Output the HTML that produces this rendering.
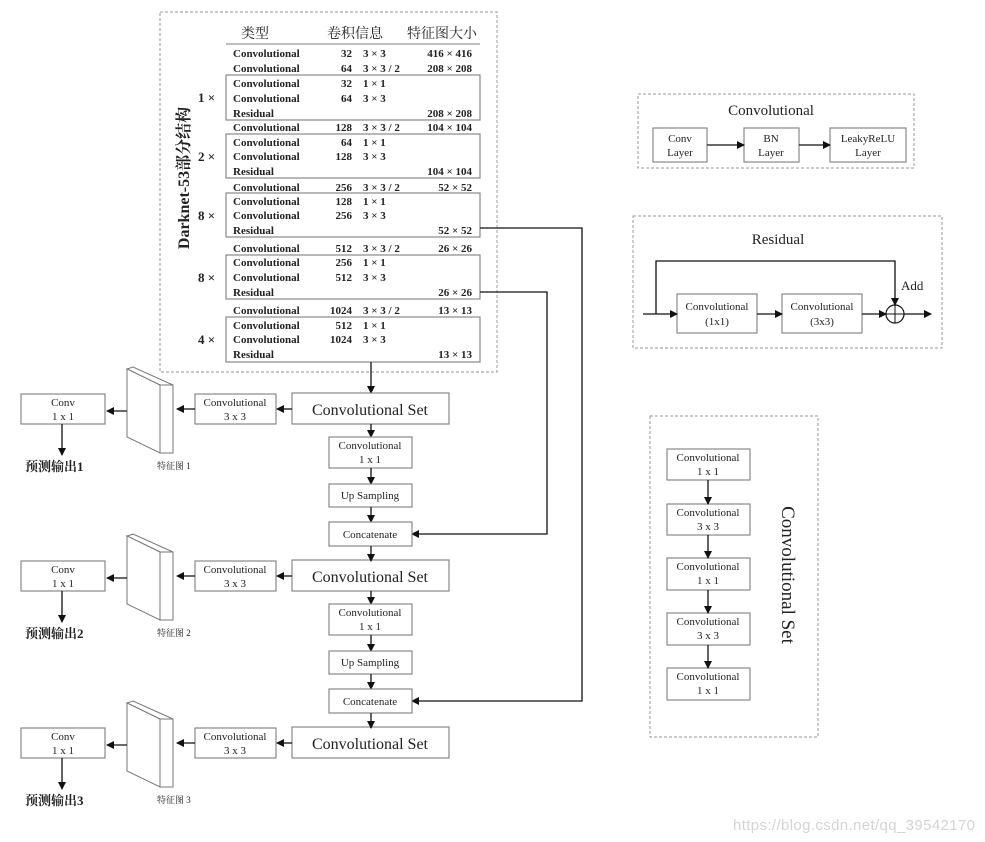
<!DOCTYPE html>
<html><head><meta charset="utf-8"><style>
body{margin:0;background:#fff}
svg{display:block}
text{font-family:"Liberation Serif","Noto Serif CJK SC",serif;fill:#222}
.t{font-size:11px;font-weight:bold}
.b{fill:#fff;stroke:#888;stroke-width:1.2}
.d{fill:none;stroke:#999;stroke-width:1;stroke-dasharray:3,2}
.l{stroke:#111;stroke-width:1.3;fill:none}
.s{font-size:11px}
</style></head><body>
<svg width="985" height="842" viewBox="0 0 985 842" xmlns="http://www.w3.org/2000/svg">
<defs><marker id="a" markerWidth="8" markerHeight="8" refX="7" refY="4" orient="auto" markerUnits="userSpaceOnUse"><path d="M0,0 L8,4 L0,8z" fill="#111"/></marker></defs>

<rect class="d" x="160" y="12" width="337" height="360"/>
<text x="255" y="38" font-size="14" text-anchor="middle">类型</text>
<text x="355" y="38" font-size="14" text-anchor="middle">卷积信息</text>
<text x="442" y="38" font-size="14" text-anchor="middle">特征图大小</text>
<line x1="226" y1="44" x2="480" y2="44" stroke="#999" stroke-width="1.2"/>
<rect class="b" x="226" y="75" width="254" height="45" fill="none"/>
<rect class="b" x="226" y="134" width="254" height="44"/>
<rect class="b" x="226" y="193" width="254" height="44"/>
<rect class="b" x="226" y="255" width="254" height="44"/>
<rect class="b" x="226" y="317" width="254" height="45"/>
<text transform="translate(189,178) rotate(-90)" font-size="16" font-weight="bold" text-anchor="middle">Darknet-53部分结构</text>
<g>
<text x="198" y="102" font-size="13" font-weight="bold">1 ×</text>
<text x="198" y="161" font-size="13" font-weight="bold">2 ×</text>
<text x="198" y="220" font-size="13" font-weight="bold">8 ×</text>
<text x="198" y="282" font-size="13" font-weight="bold">8 ×</text>
<text x="198" y="344" font-size="13" font-weight="bold">4 ×</text>
</g>
<g class="t">
<text class="t" x="233" y="57">Convolutional</text><text class="t" x="352" y="57" text-anchor="end">32</text><text class="t" x="363" y="57">3 × 3</text><text class="t" x="472" y="57" text-anchor="end">416 × 416</text>
<text class="t" x="233" y="72">Convolutional</text><text class="t" x="352" y="72" text-anchor="end">64</text><text class="t" x="363" y="72">3 × 3 / 2</text><text class="t" x="472" y="72" text-anchor="end">208 × 208</text>
<text class="t" x="233" y="87">Convolutional</text><text class="t" x="352" y="87" text-anchor="end">32</text><text class="t" x="363" y="87">1 × 1</text>
<text class="t" x="233" y="102">Convolutional</text><text class="t" x="352" y="102" text-anchor="end">64</text><text class="t" x="363" y="102">3 × 3</text>
<text class="t" x="233" y="117">Residual</text><text class="t" x="472" y="117" text-anchor="end">208 × 208</text>
<text class="t" x="233" y="131">Convolutional</text><text class="t" x="352" y="131" text-anchor="end">128</text><text class="t" x="363" y="131">3 × 3 / 2</text><text class="t" x="472" y="131" text-anchor="end">104 × 104</text>
<text class="t" x="233" y="146">Convolutional</text><text class="t" x="352" y="146" text-anchor="end">64</text><text class="t" x="363" y="146">1 × 1</text>
<text class="t" x="233" y="160">Convolutional</text><text class="t" x="352" y="160" text-anchor="end">128</text><text class="t" x="363" y="160">3 × 3</text>
<text class="t" x="233" y="175">Residual</text><text class="t" x="472" y="175" text-anchor="end">104 × 104</text>
<text class="t" x="233" y="191">Convolutional</text><text class="t" x="352" y="191" text-anchor="end">256</text><text class="t" x="363" y="191">3 × 3 / 2</text><text class="t" x="472" y="191" text-anchor="end">52 × 52</text>
<text class="t" x="233" y="205">Convolutional</text><text class="t" x="352" y="205" text-anchor="end">128</text><text class="t" x="363" y="205">1 × 1</text>
<text class="t" x="233" y="219">Convolutional</text><text class="t" x="352" y="219" text-anchor="end">256</text><text class="t" x="363" y="219">3 × 3</text>
<text class="t" x="233" y="234">Residual</text><text class="t" x="472" y="234" text-anchor="end">52 × 52</text>
<text class="t" x="233" y="252">Convolutional</text><text class="t" x="352" y="252" text-anchor="end">512</text><text class="t" x="363" y="252">3 × 3 / 2</text><text class="t" x="472" y="252" text-anchor="end">26 × 26</text>
<text class="t" x="233" y="266">Convolutional</text><text class="t" x="352" y="266" text-anchor="end">256</text><text class="t" x="363" y="266">1 × 1</text>
<text class="t" x="233" y="281">Convolutional</text><text class="t" x="352" y="281" text-anchor="end">512</text><text class="t" x="363" y="281">3 × 3</text>
<text class="t" x="233" y="296">Residual</text><text class="t" x="472" y="296" text-anchor="end">26 × 26</text>
<text class="t" x="233" y="314">Convolutional</text><text class="t" x="352" y="314" text-anchor="end">1024</text><text class="t" x="363" y="314">3 × 3 / 2</text><text class="t" x="472" y="314" text-anchor="end">13 × 13</text>
<text class="t" x="233" y="329">Convolutional</text><text class="t" x="352" y="329" text-anchor="end">512</text><text class="t" x="363" y="329">1 × 1</text>
<text class="t" x="233" y="343">Convolutional</text><text class="t" x="352" y="343" text-anchor="end">1024</text><text class="t" x="363" y="343">3 × 3</text>
<text class="t" x="233" y="358">Residual</text><text class="t" x="472" y="358" text-anchor="end">13 × 13</text>
</g>

<polyline class="l" points="480,228 582,228 582,701 412,701" marker-end="url(#a)"/>
<polyline class="l" points="480,292 547,292 547,534 412,534" marker-end="url(#a)"/>
<line class="l" x1="371" y1="362" x2="371" y2="393" marker-end="url(#a)"/>

<g id="h1">
<rect class="b" x="292" y="393" width="157" height="31"/>
<text x="370" y="415" font-size="16" text-anchor="middle">Convolutional  Set</text>
<rect class="b" x="195" y="394" width="81" height="30"/>
<text class="s" x="235" y="406" text-anchor="middle">Convolutional</text>
<text class="s" x="235" y="420" text-anchor="middle">3 x 3</text>
<line class="l" x1="292" y1="409" x2="277" y2="409" marker-end="url(#a)"/>
<line class="l" x1="195" y1="409" x2="177" y2="409" marker-end="url(#a)"/>
<polygon points="127,369 133,367 173,385 160,385" fill="#fff" stroke="#777"/>
<polygon points="127,369 160,385 160,453 127,437" fill="#fff" stroke="#777"/>
<rect x="160" y="385" width="13" height="68" fill="#fff" stroke="#777"/>
<line class="l" x1="127" y1="411" x2="107" y2="411" marker-end="url(#a)"/>
<rect class="b" x="21" y="394" width="84" height="30"/>
<text class="s" x="63" y="406" text-anchor="middle">Conv</text>
<text class="s" x="63" y="420" text-anchor="middle">1 x 1</text>
<line class="l" x1="62" y1="424" x2="62" y2="455" marker-end="url(#a)"/>
<text x="25" y="471" font-size="13" font-weight="bold">预测输出1</text>
<text x="157" y="469" font-size="9">特征图 1</text>
</g>
<use href="#h1" y="167"/>
<use href="#h1" y="334"/>
<rect fill="#fff" x="20" y="625" width="90" height="20"/><text x="25" y="638" font-size="13" font-weight="bold">预测输出2</text>
<rect fill="#fff" x="20" y="792" width="90" height="20"/><text x="25" y="805" font-size="13" font-weight="bold">预测输出3</text>
<rect fill="#fff" x="155" y="626" width="45" height="14"/><text x="157" y="636" font-size="9">特征图 2</text>
<rect fill="#fff" x="155" y="793" width="45" height="14"/><text x="157" y="803" font-size="9">特征图 3</text>

<g id="up">
<line class="l" x1="371" y1="424" x2="371" y2="437" marker-end="url(#a)"/>
<rect class="b" x="329" y="437" width="83" height="31"/>
<text class="s" x="370" y="449" text-anchor="middle">Convolutional</text>
<text class="s" x="370" y="463" text-anchor="middle">1 x 1</text>
<line class="l" x1="371" y1="468" x2="371" y2="484" marker-end="url(#a)"/>
<rect class="b" x="329" y="484" width="83" height="23"/>
<text class="s" x="370" y="499" text-anchor="middle">Up Sampling</text>
<line class="l" x1="371" y1="507" x2="371" y2="522" marker-end="url(#a)"/>
<rect class="b" x="329" y="522" width="83" height="24"/>
<text class="s" x="370" y="538" text-anchor="middle">Concatenate</text>
<line class="l" x1="371" y1="546" x2="371" y2="561" marker-end="url(#a)"/>
</g>
<use href="#up" y="167"/>

<rect class="d" x="638" y="94" width="276" height="74"/>
<text x="771" y="115" font-size="15" text-anchor="middle">Convolutional</text>
<rect class="b" x="653" y="128" width="54" height="34"/>
<text class="s" x="680" y="142" text-anchor="middle">Conv</text><text class="s" x="680" y="156" text-anchor="middle">Layer</text>
<rect class="b" x="744" y="128" width="55" height="34"/>
<text class="s" x="771" y="142" text-anchor="middle">BN</text><text class="s" x="771" y="156" text-anchor="middle">Layer</text>
<rect class="b" x="830" y="128" width="76" height="34"/>
<text class="s" x="868" y="142" text-anchor="middle">LeakyReLU</text><text class="s" x="868" y="156" text-anchor="middle">Layer</text>
<line class="l" x1="707" y1="145" x2="744" y2="145" marker-end="url(#a)"/>
<line class="l" x1="799" y1="145" x2="830" y2="145" marker-end="url(#a)"/>

<rect class="d" x="633" y="216" width="309" height="132"/>
<text x="778" y="244" font-size="15" text-anchor="middle">Residual</text>
<rect class="b" x="677" y="294" width="80" height="39"/>
<text class="s" x="717" y="310" text-anchor="middle">Convolutional</text><text class="s" x="717" y="325" text-anchor="middle">(1x1)</text>
<rect class="b" x="782" y="294" width="80" height="39"/>
<text class="s" x="822" y="310" text-anchor="middle">Convolutional</text><text class="s" x="822" y="325" text-anchor="middle">(3x3)</text>
<line class="l" x1="643" y1="314" x2="677" y2="314" marker-end="url(#a)" stroke="#666"/>
<line class="l" x1="757" y1="314" x2="782" y2="314" marker-end="url(#a)"/>
<line class="l" x1="862" y1="314" x2="886" y2="314" marker-end="url(#a)"/>
<polyline class="l" points="656,314 656,261 895,261 895,305" marker-end="url(#a)" stroke="#666"/>
<circle cx="895" cy="314" r="9" fill="#fff" stroke="#111" stroke-width="1.2"/>
<line x1="886" y1="314" x2="904" y2="314" stroke="#111"/><line x1="895" y1="305" x2="895" y2="323" stroke="#111"/>
<line class="l" x1="904" y1="314" x2="931" y2="314" marker-end="url(#a)"/>
<text x="901" y="290" font-size="13">Add</text>

<rect class="d" x="650" y="416" width="168" height="321"/>
<g>
<rect class="b" x="667" y="449" width="83" height="31"/><text class="s" x="708" y="461" text-anchor="middle">Convolutional</text><text class="s" x="708" y="475" text-anchor="middle">1 x 1</text>
<rect class="b" x="667" y="504" width="83" height="31"/><text class="s" x="708" y="516" text-anchor="middle">Convolutional</text><text class="s" x="708" y="530" text-anchor="middle">3 x 3</text>
<rect class="b" x="667" y="558" width="83" height="32"/><text class="s" x="708" y="570" text-anchor="middle">Convolutional</text><text class="s" x="708" y="584" text-anchor="middle">1 x 1</text>
<rect class="b" x="667" y="613" width="83" height="32"/><text class="s" x="708" y="625" text-anchor="middle">Convolutional</text><text class="s" x="708" y="639" text-anchor="middle">3 x 3</text>
<rect class="b" x="667" y="668" width="83" height="32"/><text class="s" x="708" y="680" text-anchor="middle">Convolutional</text><text class="s" x="708" y="694" text-anchor="middle">1 x 1</text>
<line class="l" x1="708" y1="480" x2="708" y2="504" marker-end="url(#a)"/>
<line class="l" x1="708" y1="535" x2="708" y2="558" marker-end="url(#a)"/>
<line class="l" x1="708" y1="590" x2="708" y2="613" marker-end="url(#a)"/>
<line class="l" x1="708" y1="645" x2="708" y2="668" marker-end="url(#a)"/>
</g>
<text transform="translate(782,575) rotate(90)" font-size="19" text-anchor="middle">Convolutional Set</text>

<text x="733" y="830" font-size="15" textLength="242" style="font-family:'Liberation Sans',sans-serif;fill:#d4d4d4">https://blog.csdn.net/qq_39542170</text>
</svg>
</body></html>
